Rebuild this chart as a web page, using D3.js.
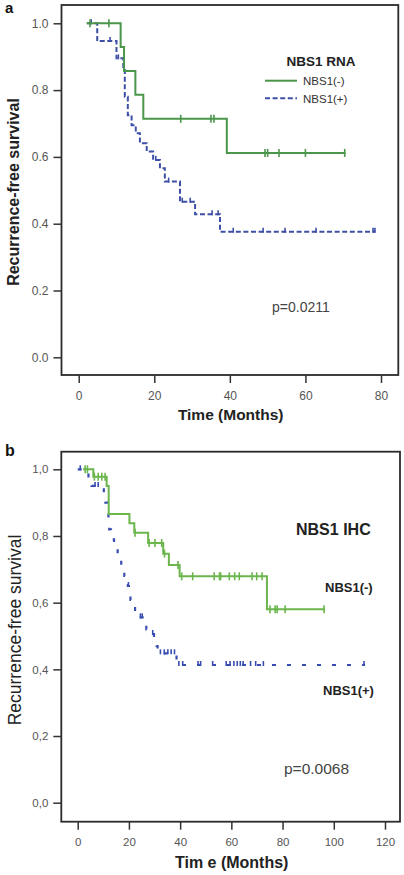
<!DOCTYPE html>
<html><head><meta charset="utf-8">
<script src="https://cdn.jsdelivr.net/npm/d3@7"></script>
<style>body{margin:0;background:#fff}svg{display:block}text{font-family:"Liberation Sans",Arial,sans-serif}</style>
</head><body><svg id="c" width="404" height="875"></svg>
<script>
// ---------- Panel a (NBS1 RNA) ----------
const aTicksX = [0, 20, 40, 60, 80];
const aTicksY = [0, 0.2, 0.4, 0.6, 0.8, 1.0];
const aNegTime = [2.1, 11.1, 12.0, 15.0, 17.1, 39.2, 70.6];
const aNegSurv = [1.0, 0.929, 0.857, 0.786, 0.714, 0.612, 0.612];
const aNegCens = [3.0, 8.0, 27.0, 35.0, 35.8, 49.3, 50.0, 53.0, 60.0, 70.4];
const aPosTime = [2.2, 4.9, 10.0, 11.8, 12.2, 13.0, 14.0, 15.1, 16.2, 18.0, 19.7, 21.5, 22.8, 26.8, 30.8, 37.4, 78.5];
const aPosSurv = [1.0, 0.947, 0.895, 0.860, 0.780, 0.725, 0.695, 0.671, 0.641, 0.616, 0.591, 0.566, 0.526, 0.466, 0.428, 0.376, 0.376];
const aPosCens = [3.3, 8.3, 10.5, 20.4, 23.8, 27.4, 29.5, 35.3, 36.9, 40.9, 48.8, 54.6, 62.8, 77.9, 78.4];
const aLegend = ["NBS1(-)", "NBS1(+)"];

// ---------- Panel b (NBS1 IHC) ----------
const bTicksX = [0, 20, 40, 60, 80, 100, 120];
const bTicksY = [0, 0.2, 0.4, 0.6, 0.8, 1.0];
const bNegTime = [2.1, 6.1, 11.3, 12.1, 20.2, 22.1, 27.5, 33.4, 35.6, 39.8, 73.9, 96.6];
const bNegSurv = [1.0, 0.978, 0.95, 0.866, 0.838, 0.81, 0.779, 0.747, 0.713, 0.679, 0.58, 0.58];
const bNegCens = [2.9, 3.8, 6.5, 8.0, 9.4, 10.7, 22.4, 27.9, 30.2, 32.8, 33.9, 39.2, 40.6, 44.9, 53.3, 55.4, 55.8, 59.2, 61.3, 63.1, 68.1, 69.9, 72.0, 75.1, 77.1, 77.9, 81.0, 96.2];
const bPosTime = [0, 3.2, 4.2, 5.0, 5.4, 10.2, 10.8, 11.5, 12.0, 12.3, 13.0, 14.2, 15.6, 17.0, 18.2, 18.8, 19.6, 20.0, 20.6, 21.6, 22.4, 23.4, 25.8, 26.8, 27.3, 29.8, 30.8, 31.2, 38.6, 112.2];
const bPosSurv = [1.0, 0.988, 0.975, 0.963, 0.95, 0.925, 0.90, 0.875, 0.85, 0.82, 0.79, 0.76, 0.735, 0.708, 0.68, 0.665, 0.65, 0.625, 0.608, 0.584, 0.569, 0.556, 0.542, 0.52, 0.506, 0.488, 0.47, 0.448, 0.413, 0.413];
const bPosCens = [1.0, 6.8, 8.0, 19.8, 24.5, 25.2, 29.3, 32.3, 33.8, 35.2, 36.5, 37.8, 39.5, 41.0, 47.0, 48.0, 52.7, 58.0, 59.5, 61.0, 62.3, 63.5, 64.6, 67.5, 69.5, 72.5, 111.8];

const svg = d3.select("#c");

function survAt(t, times, survs) {
  let s = survs[0];
  for (let i = 0; i < times.length; i++) if (times[i] <= t) s = survs[i];
  return s;
}

function drawKM(g, x, y, times, survs, cens, color, width, dash, tickUp, tickDown) {
  const pts = times.map((t, i) => [t, survs[i]]);
  const line = d3.line().x(d => x(d[0])).y(d => y(d[1])).curve(d3.curveStepAfter);
  g.append("path").attr("d", line(pts)).attr("fill", "none")
    .attr("stroke", color).attr("stroke-width", width)
    .attr("stroke-dasharray", dash || null);
  g.selectAll(null).data(cens).enter().append("line")
    .attr("x1", d => x(d)).attr("x2", d => x(d))
    .attr("y1", d => y(survAt(d, times, survs)) - tickUp)
    .attr("y2", d => y(survAt(d, times, survs)) + tickDown)
    .attr("stroke", color).attr("stroke-width", 1.6);
}

function frame(f, x, y, ticksX, ticksY, fmtY, fontX, fontY) {
  const g = svg.append("g");
  g.append("rect").attr("x", f.l).attr("y", f.t).attr("width", f.r - f.l).attr("height", f.b - f.t)
    .attr("fill", "none").attr("stroke", "#2b2b2b").attr("stroke-width", 1.8);
  const ax = g.append("g").attr("transform", `translate(0,${f.b})`)
    .call(d3.axisBottom(x).tickValues(ticksX).tickSize(8).tickSizeOuter(0).tickPadding(8).tickFormat(d3.format("d")));
  ax.select(".domain").remove();
  ax.selectAll("line").attr("stroke", "#333").attr("stroke-width", 1.5);
  ax.selectAll("text").attr("fill", "#555").style("font-size", fontX + "px").style("font-family", '"Liberation Sans",Arial,sans-serif');
  const ay = g.append("g").attr("transform", `translate(${f.l},0)`)
    .call(d3.axisLeft(y).tickValues(ticksY).tickSize(8).tickSizeOuter(0).tickPadding(5).tickFormat(fmtY));
  ay.select(".domain").remove();
  ay.selectAll("line").attr("stroke", "#333").attr("stroke-width", 1.5);
  ay.selectAll("text").attr("fill", "#555").style("font-size", fontY + "px").style("font-family", '"Liberation Sans",Arial,sans-serif');
  return g;
}

// ===== Panel a =====
{
  const f = { l: 61.5, t: 5, r: 398.3, b: 375 };
  const x = d3.scaleLinear().domain([0, 80]).range([78.7, 381]);
  const y = d3.scaleLinear().domain([0, 1]).range([357.3, 23.3]);
  frame(f, x, y, aTicksX, aTicksY, d3.format(".1f"), 12, 12);
  const g = svg.append("g");
  drawKM(g, x, y, aPosTime, aPosSurv, aPosCens, "#3d4fa6", 2, "5,2.6", 4, 1);
  drawKM(g, x, y, aNegTime, aNegSurv, aNegCens, "#4a964a", 2, null, 4, 4);

  svg.append("text").attr("x", 5).attr("y", 13).text("a")
    .style("font-weight", "bold").style("font-size", "15px").attr("fill", "#111");
  svg.append("text").attr("transform", "translate(19,192) rotate(-90)").attr("text-anchor", "middle")
    .text("Recurrence-free survival").style("font-weight", "bold").style("font-size", "16px").attr("fill", "#222");
  svg.append("text").attr("x", 230.7).attr("y", 420).attr("text-anchor", "middle")
    .text("Time (Months)").style("font-weight", "bold").style("font-size", "15.5px").attr("fill", "#222");
  svg.append("text").attr("x", 321).attr("y", 66).attr("text-anchor", "middle")
    .text("NBS1 RNA").style("font-weight", "bold").style("font-size", "13.5px").attr("fill", "#222");
  const leg = [{ c: "#4a964a", dash: null, yy: 80.7, base: 85 }, { c: "#3d4fa6", dash: "5,2.6", yy: 98.3, base: 102.5 }];
  leg.forEach((d, i) => {
    svg.append("line").attr("x1", 265).attr("x2", 297).attr("y1", d.yy).attr("y2", d.yy)
      .attr("stroke", d.c).attr("stroke-width", 2).attr("stroke-dasharray", d.dash);
    svg.append("text").attr("x", 303).attr("y", d.base).text(aLegend[i])
      .style("font-size", "11.5px").attr("fill", "#333");
  });
  svg.append("text").attr("x", 272).attr("y", 311.5).text("p=0.0211")
    .style("font-size", "14px").attr("fill", "#444");
}

// ===== Panel b =====
{
  const f = { l: 61.3, t: 451.7, r: 400, b: 821.7 };
  const x = d3.scaleLinear().domain([0, 120]).range([77.7, 385]);
  const y = d3.scaleLinear().domain([0, 1]).range([802.7, 469.3]);
  frame(f, x, y, bTicksX, bTicksY, d => d3.format(".1f")(d).replace(".", ","), 11.5, 11.5);
  const g = svg.append("g");
  drawKM(g, x, y, bPosTime, bPosSurv, bPosCens, "#3a4db0", 2.2, "4,11", 4, 1);
  drawKM(g, x, y, bNegTime, bNegSurv, bNegCens, "#6bb64c", 2, null, 4, 4);

  svg.append("text").attr("x", 5).attr("y", 456).text("b")
    .style("font-weight", "bold").style("font-size", "16px").attr("fill", "#111");
  svg.append("text").attr("transform", "translate(21,630) rotate(-90)").attr("text-anchor", "middle")
    .text("Recurrence-free survival").style("font-size", "17.5px").attr("fill", "#222");
  svg.append("text").attr("x", 231.7).attr("y", 868).attr("text-anchor", "middle")
    .text("Tim e (Months)").style("font-weight", "bold").style("font-size", "16px").attr("fill", "#222");
  svg.append("text").attr("x", 296).attr("y", 535).text("NBS1 IHC")
    .style("font-weight", "bold").style("font-size", "16px").attr("fill", "#222");
  svg.append("text").attr("x", 325).attr("y", 592).text("NBS1(-)")
    .style("font-weight", "bold").style("font-size", "13px").attr("fill", "#222");
  svg.append("text").attr("x", 323).attr("y", 695).text("NBS1(+)")
    .style("font-weight", "bold").style("font-size", "13px").attr("fill", "#222");
  svg.append("text").attr("x", 284).attr("y", 774).text("p=0.0068")
    .style("font-size", "15.5px").attr("fill", "#444");
}
</script></body></html>
